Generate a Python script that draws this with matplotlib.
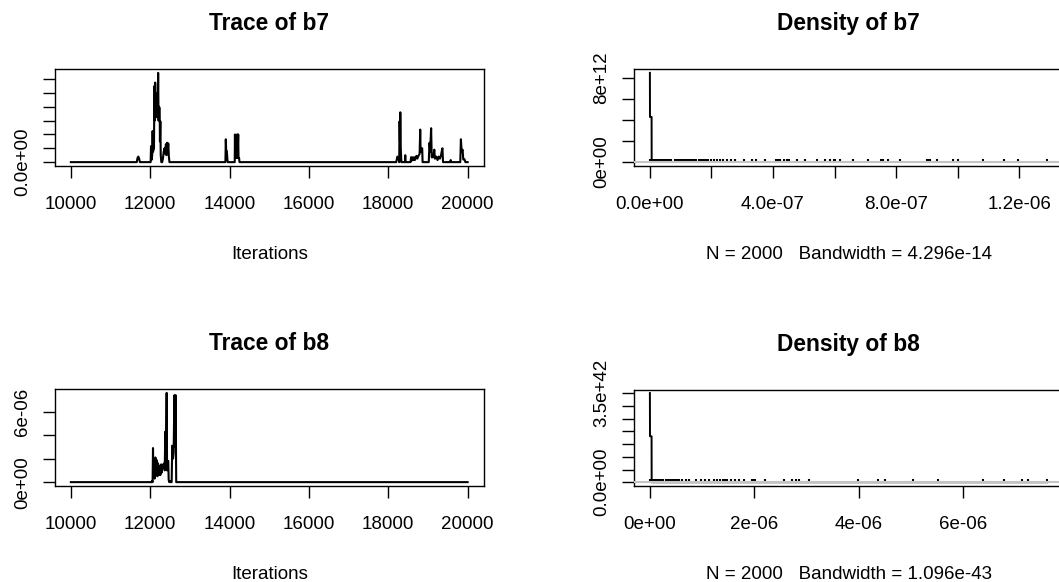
import numpy as np
import matplotlib.pyplot as plt

plt.rcParams['font.family'] = ['Liberation Sans', 'DejaVu Sans']
plt.rcParams['font.size'] = 13.5

# trace of b7, values in units of 1e-7 (zero between the bursts)
b7_iter = [10000, 11660, 11680, 11700, 11720, 11740,
           12010, 12020, 12030, 12050, 12060, 12070, 12095, 12105, 12115, 12125,
           12135, 12145, 12160, 12175, 12190, 12200, 12210, 12225, 12238, 12245,
           12255, 12265, 12280,
           12300, 12320, 12340, 12360, 12380, 12395, 12410, 12425, 12440, 12455,
           12470, 12485,
           13895, 13905, 13915, 13930, 13945, 13955,
           14130, 14135, 14145, 14165, 14185, 14193, 14200, 14218, 14225, 14240, 14250,
           18200, 18230, 18260, 18275, 18285, 18295, 18303, 18315, 18330,
           18420, 18428, 18436,
           18560, 18575, 18590, 18610, 18630, 18650, 18670, 18690, 18710, 18730,
           18760, 18790, 18805, 18815, 18840, 18855, 18865,
           19020, 19040, 19055, 19080, 19095, 19120, 19140, 19160, 19175, 19210,
           19240, 19270, 19300, 19330, 19355, 19365, 19380,
           19560, 19573, 19585,
           19815, 19830, 19850, 19873, 19890, 19920, 19945,
           20000]
b7_val = [0, 0, 0.6, 0.8, 0.5, 0,
          0, 2.3, 0.3, 1.0, 4.5, 1.5, 2.0, 11.0, 6.0, 11.5,
          8.0, 9.5, 6.5, 10.0, 7.5, 12.9, 6.0, 8.0, 7.7, 3.0,
          5.9, 1.0, 0,
          0, 0.5, 1.5, 2.0, 1.2, 2.6, 1.0, 2.8, 1.5, 2.7,
          0.8, 0,
          0, 3.3, 1.6, 1.6, 0.4, 0,
          0, 4.0, 0.6, 0.6, 0.7, 4.0, 0.6, 4.0, 0.6, 0.6, 0,
          0, 0.8, 0.6, 0, 5.9, 3.0, 7.2, 2.0, 0,
          0, 1.0, 0,
          0, 0.7, 0.2, 0.7, 0.3, 0.7, 0.3, 0.7, 0.9, 0.5,
          0.9, 1.2, 4.7, 1.5, 2.0, 2.0, 0,
          0, 2.8, 1.5, 4.9, 0.7, 0.7, 1.0, 1.8, 0.5, 0.8,
          0.3, 0.8, 0.5, 1.0, 1.8, 2.0, 0,
          0, 0.3, 0,
          0, 3.3, 1.5, 1.8, 0.4, 0.4, 0,
          0]

# trace of b8, values in units of 1e-6
b8_iter = [10000, 12040, 12050, 12060, 12070, 12080, 12100, 12110, 12130, 12140,
           12155, 12170, 12180, 12195, 12210, 12225, 12243, 12255, 12270, 12285,
           12300, 12320, 12335, 12350, 12365, 12381, 12395, 12414, 12425, 12440,
           12455, 12465, 12480, 12500, 12510, 12540, 12555, 12575, 12590, 12610,
           12625, 12640, 12655, 20000]
b8_val = [0, 0, 0.1, 0, 2.9, 0.5, 1.0, 0.3, 2.1, 1.0,
          1.9, 1.65, 0.5, 1.6, 0.6, 1.4, 1.2, 0.6, 1.5, 0.8,
          1.5, 1.4, 1.2, 1.6, 1.0, 4.3, 1.5, 7.6, 1.0, 1.8,
          1.8, 0.2, 0, 0.1, 0, 0, 3.1, 2.0, 2.5, 7.4,
          3.0, 7.4, 0, 0]

# kernel density of b7: x in 1e-7, y in 1e12, plus the observed values
b7_dens_x = [0.0, 0.003, 0.055, 0.058, 12.9]
b7_dens_y = [8.45, 4.27, 4.27, 0.0, 0.0]
b7_obs = [0.0, 0.02, 0.05, 0.1, 0.15, 0.2, 0.25, 0.3, 0.35, 0.4, 0.45, 0.5,
          0.55, 0.6, 0.65, 0.7, 0.82, 0.86, 0.91, 0.95, 1.0, 1.09, 1.14, 1.22,
          1.27, 1.33, 1.38, 1.43, 1.49, 1.60, 1.65, 1.70, 1.76, 1.81, 1.90, 1.97,
          2.08, 2.19, 2.27, 2.37, 2.51, 2.62, 2.76, 3.05, 3.32, 3.43, 3.75, 4.08,
          4.13, 4.19, 4.24, 4.35, 4.46, 4.53, 4.78, 5.05, 5.43, 5.70, 5.84, 5.97,
          6.02, 6.18, 6.61, 7.08, 7.51, 7.58, 7.72, 8.12, 8.99, 9.04, 9.09, 9.34,
          9.85, 10.01, 10.82, 11.50, 11.95, 12.89]

# kernel density of b8: x in 1e-6, y in 1e42
b8_dens_x = [0.0, 0.002, 0.032, 0.034, 7.6]
b8_dens_y = [3.51, 1.81, 1.81, 0.0, 0.0]
b8_obs = [0.0, 0.03, 0.06, 0.1, 0.14, 0.18, 0.22, 0.26, 0.3, 0.34, 0.38, 0.42,
          0.46, 0.5, 0.53, 0.56, 0.61, 0.69, 0.75, 0.88, 0.97, 1.06, 1.13, 1.23,
          1.29, 1.34, 1.39, 1.44, 1.48, 1.55, 1.63, 1.70, 1.80, 1.95, 1.99, 2.02,
          2.21, 2.56, 2.72, 2.79, 2.86, 3.04, 3.99, 4.36, 4.50, 5.04, 5.52, 6.38,
          6.78, 7.11, 7.23, 7.60]

n_iter = 2000
b7_bw = "4.296e-14"
b8_bw = "1.096e-43"

trace_xticks = [10000, 12000, 14000, 16000, 18000, 20000]
b7_trace_yticks = [0, 2e-7, 4e-7, 6e-7, 8e-7, 1.0e-6, 1.2e-6]
b7_trace_ylabels = ["0.0e+00", "", "", "", "", "", ""]
b8_trace_yticks = [0, 2e-6, 4e-6, 6e-6]
b8_trace_ylabels = ["0e+00", "", "", "6e-06"]
b7_dens_xticks = [0, 2e-7, 4e-7, 6e-7, 8e-7, 1.0e-6, 1.2e-6]
b7_dens_xlabels = ["0.0e+00", "", "4.0e-07", "", "8.0e-07", "", "1.2e-06"]
b7_dens_yticks = [0, 2e12, 4e12, 6e12, 8e12]
b7_dens_ylabels = ["0e+00", "", "", "", "8e+12"]
b8_dens_xticks = [0, 2e-6, 4e-6, 6e-6]
b8_dens_xlabels = ["0e+00", "2e-06", "4e-06", "6e-06"]
b8_dens_yticks = [0, 5e41, 1e42, 1.5e42, 2e42, 2.5e42, 3e42, 3.5e42]
b8_dens_ylabels = ["0.0e+00", "", "", "", "", "", "", "3.5e+42"]

W, H = 1059, 582
fig = plt.figure(figsize=(W / 100, H / 100), dpi=100)


def px_axes(l, t, r, b):
    return fig.add_axes([l / W, 1 - b / H, (r - l) / W, (b - t) / H])


def r_lim(vals):
    lo, hi = min(vals), max(vals)
    d = 0.04 * (hi - lo)
    return lo - d, hi + d


def style(ax, title, xlabel):
    for s in ax.spines.values():
        s.set_linewidth(1.0)
    ax.tick_params(direction='out', length=8.6, width=1.0)
    ax.tick_params(axis='x', pad=13)
    ax.tick_params(axis='y', pad=8.5)
    for lab in ax.get_yticklabels():
        lab.set_rotation(90)
        lab.set_va('center')
    ax.set_title(title, fontsize=16.4, fontweight='bold', pad=28)
    ax.set_xlabel(xlabel, labelpad=24)


def trace_panel(ax, it, vals, yticks, ylabels, name):
    ax.plot(it, vals, color='black', lw=1.5)
    ax.set_xlim(r_lim(it))
    ax.set_ylim(r_lim(vals))
    ax.set_xticks(trace_xticks)
    ax.set_yticks(yticks)
    ax.set_yticklabels(ylabels)
    style(ax, "Trace of " + name, "Iterations")


def dens_panel(ax, dx, dy, obs, xticks, xlabels, yticks, ylabels, name, bw):
    ax.plot(dx, dy, color='black', lw=1.4, zorder=2)
    ax.vlines(obs, 0, max(dy) * 0.035, color='black', lw=1.5, zorder=3)
    ax.axhline(0, color='#c4c4c4', lw=1.5, zorder=4)
    ax.set_xlim(r_lim(list(dx) + list(obs)))
    ax.set_ylim(r_lim([0] + list(dy)))
    ax.set_xticks(xticks)
    ax.set_xticklabels(xlabels)
    ax.set_yticks(yticks)
    ax.set_yticklabels(ylabels)
    style(ax, "Density of " + name,
          "N = %d   Bandwidth = %s" % (n_iter, bw))


ax1 = px_axes(55, 69.3, 483.5, 165.7)
trace_panel(ax1, b7_iter, np.array(b7_val) * 1e-7,
            b7_trace_yticks, b7_trace_ylabels, "b7")

ax2 = px_axes(634, 69.3, 1063, 165.6)
dens_panel(ax2, np.array(b7_dens_x) * 1e-7, np.array(b7_dens_y) * 1e12,
           np.array(b7_obs) * 1e-7, b7_dens_xticks, b7_dens_xlabels,
           b7_dens_yticks, b7_dens_ylabels, "b7", b7_bw)

ax3 = px_axes(55, 389.3, 483.5, 485.7)
trace_panel(ax3, b8_iter, np.array(b8_val) * 1e-6,
            b8_trace_yticks, b8_trace_ylabels, "b8")

ax4 = px_axes(634, 389.5, 1063, 485.8)
dens_panel(ax4, np.array(b8_dens_x) * 1e-6, np.array(b8_dens_y) * 1e42,
           np.array(b8_obs) * 1e-6, b8_dens_xticks, b8_dens_xlabels,
           b8_dens_yticks, b8_dens_ylabels, "b8", b8_bw)

fig.savefig("out.png", dpi=100)
